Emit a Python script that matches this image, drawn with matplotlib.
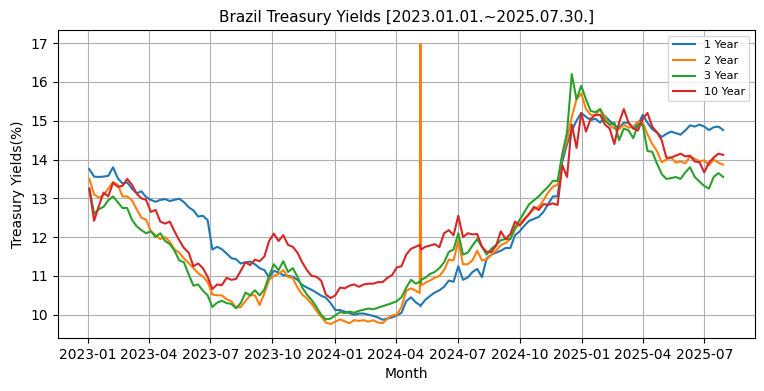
import matplotlib
matplotlib.use("Agg")
import matplotlib.pyplot as plt
import matplotlib.dates as mdates
import pandas as pd

# weekly readings (Tuesdays) plus the two days around the 2Y spike
weekly = pd.date_range('2023-01-03', '2025-07-29', freq='7D')
extra = pd.to_datetime(['2024-05-06', '2024-05-08'])
dates = weekly.append(extra).sort_values()

yield_1y = [
    13.75, 13.56, 13.55, 13.56, 13.58, 13.80, 13.52, 13.38, 13.41, 13.25, 13.13, 13.18, 13.03,
    12.96, 12.91, 12.96, 12.98, 12.93, 12.96, 12.99, 12.90, 12.77, 12.69, 12.53, 12.55, 12.44,
    11.68, 11.75, 11.69, 11.58, 11.46, 11.43, 11.32, 11.35, 11.37, 11.30, 11.20, 11.15, 10.96,
    11.13, 11.09, 11.02, 11.00, 10.98, 10.90, 10.77, 10.70, 10.64, 10.57, 10.49, 10.44, 10.30,
    10.12, 10.12, 10.08, 10.04, 10.00, 10.03, 10.03, 10.00, 9.97, 9.93, 9.87, 9.90, 9.93,
    9.98, 10.05, 10.35, 10.45, 10.32,
    10.25, 10.22, 10.25,
    10.38, 10.48, 10.57, 10.63, 10.72, 10.88, 10.85,
    11.25, 10.90, 10.96, 11.10, 11.18, 10.97, 11.45, 11.55, 11.60, 11.65, 11.72, 11.72, 12.05,
    12.15, 12.30, 12.42, 12.47, 12.52, 12.65, 12.85, 13.05, 13.05, 13.95, 14.40, 14.75, 15.00,
    15.20, 15.10, 15.02, 15.05, 14.95, 15.12, 15.00, 14.88, 14.82, 14.95, 14.95, 14.80, 14.90,
    15.15, 14.95, 14.78, 14.70, 14.58, 14.66, 14.72, 14.68, 14.64, 14.75, 14.88, 14.85, 14.90,
    14.85, 14.76, 14.83, 14.85, 14.76,
]

yield_2y = [
    13.50, 13.10, 13.02, 13.08, 13.25, 13.42, 13.35, 13.05, 13.05, 12.95, 12.72, 12.50, 12.45,
    12.15, 12.05, 11.95, 12.00, 11.88, 11.68, 11.60, 11.45, 11.33, 11.20, 11.07, 10.98, 10.85,
    10.52, 10.50, 10.50, 10.40, 10.35, 10.18, 10.20, 10.35, 10.50, 10.50, 10.25, 10.55, 10.90,
    11.00, 11.05, 11.15, 10.97, 10.95, 10.70, 10.52, 10.42, 10.28, 10.10, 9.95, 9.80, 9.76,
    9.82, 9.88, 9.83, 9.78, 9.86, 9.84, 9.86, 9.82, 9.86, 9.80, 9.78, 9.90, 9.98,
    10.00, 10.20, 10.62, 10.68, 10.62,
    10.56, 16.97, 10.75,
    10.82, 10.88, 10.95, 11.00, 11.15, 11.42, 11.40,
    11.90, 11.30, 11.30, 11.40, 11.65, 11.40, 11.42, 11.55, 11.65, 11.80, 11.85, 11.95, 12.20,
    12.35, 12.48, 12.60, 12.72, 12.78, 12.95, 13.15, 13.30, 13.35, 14.10, 14.50, 15.10, 15.55,
    15.70, 15.30, 15.15, 15.15, 15.30, 15.10, 14.88, 14.80, 14.78, 14.90, 14.82, 14.85, 14.98,
    14.95, 14.65, 14.40, 14.22, 13.93, 14.00, 14.05, 13.92, 13.95, 13.90, 14.08, 14.02, 13.95,
    13.98, 13.85, 14.00, 13.92, 13.87,
]

yield_3y = [
    13.25, 12.60, 12.72, 12.78, 12.95, 13.05, 12.90, 12.75, 12.75, 12.45, 12.28, 12.18, 12.10,
    12.15, 12.00, 12.10, 11.90, 11.82, 11.65, 11.40, 11.35, 11.04, 10.75, 10.78, 10.62, 10.50,
    10.20, 10.31, 10.36, 10.30, 10.28, 10.17, 10.30, 10.57, 10.50, 10.63, 10.50, 10.65, 11.00,
    11.30, 11.15, 11.38, 11.10, 11.20, 10.98, 10.70, 10.52, 10.38, 10.20, 10.00, 9.88, 9.90,
    9.98, 10.07, 10.04, 10.08, 10.05, 10.10, 10.13, 10.16, 10.14, 10.18, 10.22, 10.26, 10.30,
    10.35, 10.45, 10.70, 10.90, 10.80,
    10.85, 10.82, 10.90,
    10.95, 11.05, 11.10, 11.20, 11.35, 11.62, 11.68,
    12.10, 11.55, 11.60, 11.78, 11.95, 11.75, 11.55, 11.70, 11.80, 11.92, 11.95, 11.95, 12.25,
    12.45, 12.65, 12.85, 12.95, 13.05, 13.18, 13.30, 13.45, 13.45, 14.15, 14.70, 16.20, 15.55,
    15.90, 15.55, 15.25, 15.22, 15.30, 15.00, 14.90, 14.95, 14.50, 14.80, 14.75, 14.55, 14.90,
    14.90, 14.22, 14.20, 13.90, 13.63, 13.50, 13.52, 13.55, 13.50, 13.67, 13.80, 13.55, 13.43,
    13.32, 13.25, 13.55, 13.65, 13.55,
]

yield_10y = [
    13.25, 12.42, 12.80, 13.15, 13.05, 13.40, 13.30, 13.32, 13.50, 13.35, 13.12, 13.00, 12.96,
    12.65, 12.70, 12.40, 12.35, 12.40, 12.15, 11.92, 11.72, 11.60, 11.25, 11.32, 11.20, 10.98,
    10.66, 10.78, 10.76, 10.95, 10.90, 10.92, 11.13, 11.35, 11.28, 11.42, 11.38, 11.50, 11.90,
    12.09, 11.90, 12.05, 11.80, 11.75, 11.60, 11.35, 11.15, 11.00, 10.98, 10.88, 10.52, 10.43,
    10.50, 10.70, 10.68, 10.75, 10.78, 10.72, 10.78, 10.80, 10.80, 10.84, 10.84, 10.95, 11.02,
    11.22, 11.25, 11.55, 11.70, 11.75,
    11.80, 11.72, 11.68,
    11.75, 11.78, 11.82, 11.74, 12.10, 12.18, 12.05,
    12.55, 12.00, 12.10, 12.07, 12.08, 11.75, 11.62, 11.62, 11.78, 12.15, 11.95, 12.08, 12.40,
    12.30, 12.45, 12.60, 12.78, 12.70, 12.85, 12.83, 12.87, 12.83, 13.85, 13.55, 14.90, 14.30,
    15.20, 14.72, 15.05, 15.15, 15.15, 14.90, 14.80, 14.40, 14.95, 15.30, 14.95, 14.80, 14.75,
    15.05, 15.20, 14.85, 14.70, 14.50, 14.05, 14.05, 14.10, 14.15, 14.08, 14.10, 13.95, 13.93,
    13.67, 13.92, 14.05, 14.15, 14.12,
]

series = {'1 Year': yield_1y, '2 Year': yield_2y, '3 Year': yield_3y, '10 Year': yield_10y}

fig, ax = plt.subplots(figsize=(7.64, 3.91), dpi=100)
fig.subplots_adjust(left=0.0755, right=0.988, bottom=0.1355, top=0.9225)

for label, values in series.items():
    assert len(values) == len(dates), label
    ax.plot(dates, values, label=label)

ax.xaxis.set_major_locator(mdates.MonthLocator(bymonth=[1, 4, 7, 10]))
ax.xaxis.set_major_formatter(mdates.DateFormatter('%Y-%m'))
ax.grid(True)
ax.legend(loc='upper right', fontsize=8)
ax.set_title('Brazil Treasury Yields [2023.01.01.~2025.07.30.]', fontsize=11)
ax.set(xlabel='Month', ylabel='Treasury Yields(%)')

fig.savefig('out.png')
